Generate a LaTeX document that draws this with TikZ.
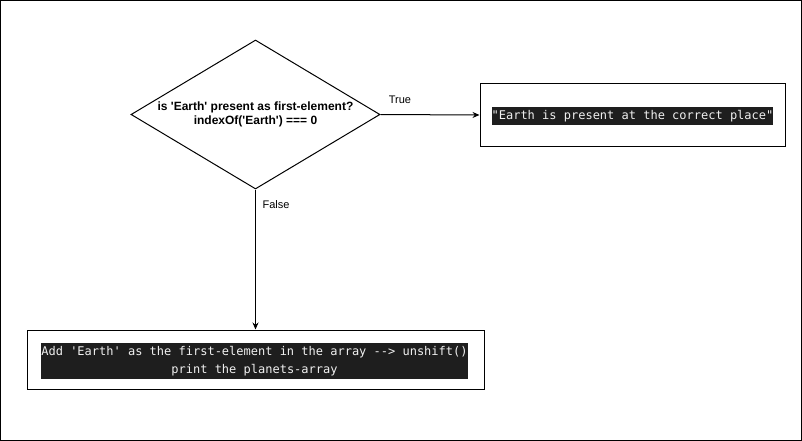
\documentclass[tikz,border=0pt]{standalone}
\usepackage{fontspec}
\setmainfont{Liberation Sans}
\newfontfamily\codefont{DejaVu Sans Mono}
\usetikzlibrary{shapes.geometric,arrows.meta}

\definecolor{codebg}{HTML}{1E1E1E}
\definecolor{codefg}{HTML}{F0F0F0}

\tikzset{
    flowline/.style={line width=1pt, -{Stealth[length=7pt, width=6pt]}},
    decision/.style={draw, diamond, line width=1pt, minimum width=249pt, minimum height=149pt, inner sep=0pt, aspect=1.67, align=center, font=\fontsize{12}{14}\selectfont\bfseries},
    outbox/.style={draw, rectangle, line width=1pt, inner sep=0pt},
    codetext/.style={fill=codebg, text=codefg, inner xsep=0pt, inner ysep=3pt, align=center, font=\codefont\fontsize{12}{18}\selectfont},
    edgelabel/.style={inner sep=0pt, font=\fontsize{11}{13}\selectfont}
}

\begin{document}
\begin{tikzpicture}[x=1pt, y=-1pt]
    \useasboundingbox (0,0) rectangle (802,441);
    \draw[line width=1pt] (0.5,0.5) rectangle (801.5,440.5);

    \node[decision] (check) at (255.5,114.5) {is \textquotesingle Earth\textquotesingle{} present as first-element?\\indexOf(\textquotesingle Earth\textquotesingle) === 0};

    \node[outbox, minimum width=305pt, minimum height=62pt] (present) at (632.5,115) {};
    \node[codetext] (presentcode) at (632.5,116) {"Earth is present at the correct place"};

    \node[outbox, minimum width=457pt, minimum height=59pt] (addearth) at (255.5,359.5) {};
    \node[codetext] (addcode) at (254.5,361) {Add 'Earth' as the first-element in the array --> unshift()\\print the planets-array};

    \draw[flowline] (check.east) -- (present.west);
    \draw[flowline] (check.south) -- (check.south |- addearth.north);

    \node[edgelabel] (truelabel) at (400,100) {True};
    \node[edgelabel] (falselabel) at (276,205) {False};
\end{tikzpicture}
\end{document}
